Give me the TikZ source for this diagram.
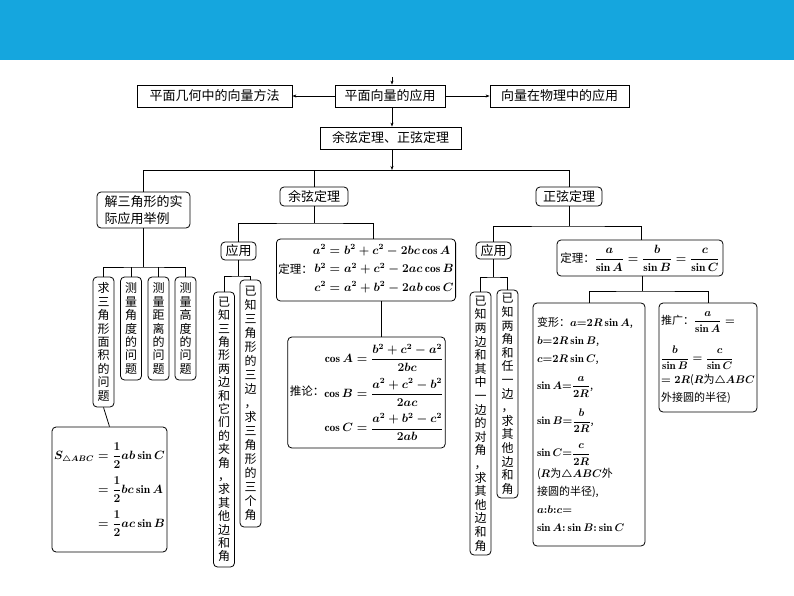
\documentclass[tikz,border=0pt]{standalone}
\usepackage{amsmath,amssymb}
\usepackage{fontspec}
\newfontfamily\cjk{Noto Sans CJK SC}
\usetikzlibrary{arrows.meta}
\definecolor{banner}{RGB}{21,166,222}
\begin{document}
\begin{tikzpicture}[x=1pt,y=-1pt,
  box/.style={draw,line width=0.8pt,inner sep=2pt,font=\cjk\fontsize{13}{16}\selectfont},
  rbox/.style={box,rounded corners=4pt},
  vbox/.style={rbox,text width=12pt,align=center,inner xsep=4.5pt,inner ysep=0pt,font=\cjk\fontsize{12}{#1}\selectfont},
  mbox/.style={rbox,font=\cjk\fontsize{11.5}{14}\selectfont\boldmath},
  ln/.style={line width=0.8pt},
  arr/.style={ln,-{Stealth[length=4pt,width=3pt]}}]
\useasboundingbox (0,0) rectangle (794,596);
\fill[banner] (0,0) rectangle (794,60);
% top row
\node[box,minimum width=110pt,minimum height=22pt] (pm) at (390,96) {平面向量的应用};
\node[box,minimum width=155pt,minimum height=22pt] (jh) at (214.5,96) {平面几何中的向量方法};
\node[box,minimum width=139pt,minimum height=22pt] (wl) at (559.5,96) {向量在物理中的应用};
\node[box,minimum width=141pt,minimum height=22pt] (yz) at (390.5,138) {余弦定理、正弦定理};
\coordinate (t0) at (392,77);
\draw[arr] (t0) -- (t0 |- pm.north);
\draw[arr] (pm.west) -- (jh.east);
\draw[arr] (pm.east) -- (wl.west);
\draw[arr] (t0 |- pm.south) -- (t0 |- yz.north);
\coordinate (h1) at (392,170);
\draw[arr] (t0 |- yz.south) -- (h1);
% second level
\node[rbox,minimum width=93pt,minimum height=36pt,align=left,font=\cjk\fontsize{13}{17}\selectfont] (js) at (143.5,210) {解三角形的实\\际应用举例};
\node[rbox,minimum width=68pt,minimum height=19pt] (yx) at (314,196.5) {余弦定理};
\node[rbox,minimum width=66pt,minimum height=19pt] (zx) at (569,196.5) {正弦定理};
\draw[ln] (js.north) -- (js.north |- h1) -| (zx.north);
\draw[ln] (yx.north) -- (yx.north |- h1);
% left branch
\node[vbox=13.4pt,minimum height=130pt] (v1) at (103.5,342) {求\\三\\角\\形\\面\\积\\的\\问\\题};
\node[vbox=13.4pt,minimum height=103pt] (v2) at (131,328.5) {测\\量\\角\\度\\的\\问\\题};
\node[vbox=13.4pt,minimum height=103pt] (v3) at (158.5,328.5) {测\\量\\距\\离\\的\\问\\题};
\node[vbox=13.4pt,minimum height=103pt] (v4) at (185.5,328.5) {测\\量\\高\\度\\的\\问\\题};
\coordinate (jb) at (143.5,267);
\draw[ln] (js.south) -- (jb);
\draw[ln] (v1.north) |- (jb) -| (v4.north);
\draw[ln] (v2.north) -- (v2.north |- jb);
\draw[ln] (v3.north) -- (v3.north |- jb);
\node[mbox,minimum width=113pt,minimum height=125pt] (sa) at (109.5,489.5)
 {$\begin{aligned}S_{\triangle ABC}&=\dfrac12 ab\sin C\\[4pt]&=\dfrac12 bc\sin A\\[4pt]&=\dfrac12 ac\sin B\end{aligned}$};
\draw[ln] (v1.south) -- (sa.north);
% cosine branch
\node[rbox,minimum width=35pt,minimum height=18pt,inner sep=1pt] (yy1) at (238.5,251) {应用};
\node[mbox,minimum width=168pt,minimum height=62pt] (dl) at (366,270)
 {定理：$\begin{aligned}a^2&=b^2+c^2-2bc\cos A\\ b^2&=a^2+c^2-2ac\cos B\\ c^2&=a^2+b^2-2ab\cos C\end{aligned}$};
\coordinate (yb) at (314,223);
\draw[ln] (yx.south) -- (yb);
\draw[ln] (yy1.north) |- (yb) -| ([xshift=7pt]dl.north);
\node[vbox=13.4pt,minimum height=275pt] (c1) at (224,429.5) {已\\知\\三\\角\\形\\两\\边\\和\\它\\们\\的\\夹\\角\\，\\求\\其\\他\\边\\和\\角};
\node[vbox=14pt,minimum height=247pt] (c2) at (250.5,403.5) {已\\知\\三\\角\\形\\的\\三\\边\\，\\求\\三\\角\\形\\的\\三\\个\\角};
\coordinate (ab) at (238.5,276);
\draw[ln] (yy1.south) -- (ab);
\draw[ln] (c1.north) |- (ab) -| (c2.north);
\node[mbox,minimum width=157pt,minimum height=111pt] (tl) at (366.5,392.5)
 {推论：$\begin{aligned}\cos A&=\dfrac{b^2+c^2-a^2}{2bc}\\[3pt]\cos B&=\dfrac{a^2+c^2-b^2}{2ac}\\[3pt]\cos C&=\dfrac{a^2+b^2-c^2}{2ab}\end{aligned}$};
\draw[ln] ([xshift=15pt]dl.south) -- ([xshift=15pt]dl.south |- tl.north);
% sine branch
\node[rbox,minimum width=35pt,minimum height=17pt,inner sep=1pt] (yy2) at (493.5,250.5) {应用};
\node[mbox,minimum width=166pt,minimum height=36pt] (dls) at (640,258)
 {定理：$\dfrac{a}{\sin A}=\dfrac{b}{\sin B}=\dfrac{c}{\sin C}$};
\coordinate (zb) at (569,226);
\draw[ln] (zx.south) -- (zb);
\draw[ln] (yy2.north) |- (zb) -| ([xshift=1pt]dls.north);
\node[vbox=13.6pt,minimum height=263pt] (s1) at (480.5,423.5) {已\\知\\两\\边\\和\\其\\中\\一\\边\\的\\对\\角\\，\\求\\其\\他\\边\\和\\角};
\node[vbox=13.6pt,minimum height=208pt] (s2) at (507.5,394) {已\\知\\两\\角\\和\\任\\一\\边\\，\\求\\其\\他\\边\\和\\角};
\coordinate (sb) at (493.5,277);
\draw[ln] (yy2.south) -- (sb);
\draw[ln] (s1.north) |- (sb) -| (s2.north);
\node[mbox,minimum width=112pt,minimum height=243pt,text width=104pt,align=left,font=\cjk\fontsize{11}{18}\selectfont\boldmath] (bx) at (589,424.5)
 {变形：$a{=}2R\sin A$,\\ $b{=}2R\sin B$,\\ $c{=}2R\sin C$,\\[9pt] $\sin A{=}\dfrac{a}{2R}$,\\[10pt] $\sin B{=}\dfrac{b}{2R}$,\\[10pt] $\sin C{=}\dfrac{c}{2R}$\\[3pt] ($R$为$\triangle ABC$外\\ 接圆的半径),\\ $a{:}b{:}c{=}$\\ $\sin A{:}\sin B{:}\sin C$};
\node[mbox,minimum width=98pt,minimum height=109pt,text width=94pt,align=left,font=\cjk\fontsize{11}{18}\selectfont\boldmath] (tg) at (708,357.5)
 {推广：$\dfrac{a}{\sin A}=$\\[12pt] $\dfrac{b}{\sin B}=\dfrac{c}{\sin C}$\\[4pt] $=2R$($R$为$\triangle ABC$\\ 外接圆的半径)};
\coordinate (db) at (642,291);
\draw[ln] ([xshift=2pt]dls.south) -- (db);
\draw[ln] (bx.north) |- (db) -| (tg.north);
\end{tikzpicture}
\end{document}
